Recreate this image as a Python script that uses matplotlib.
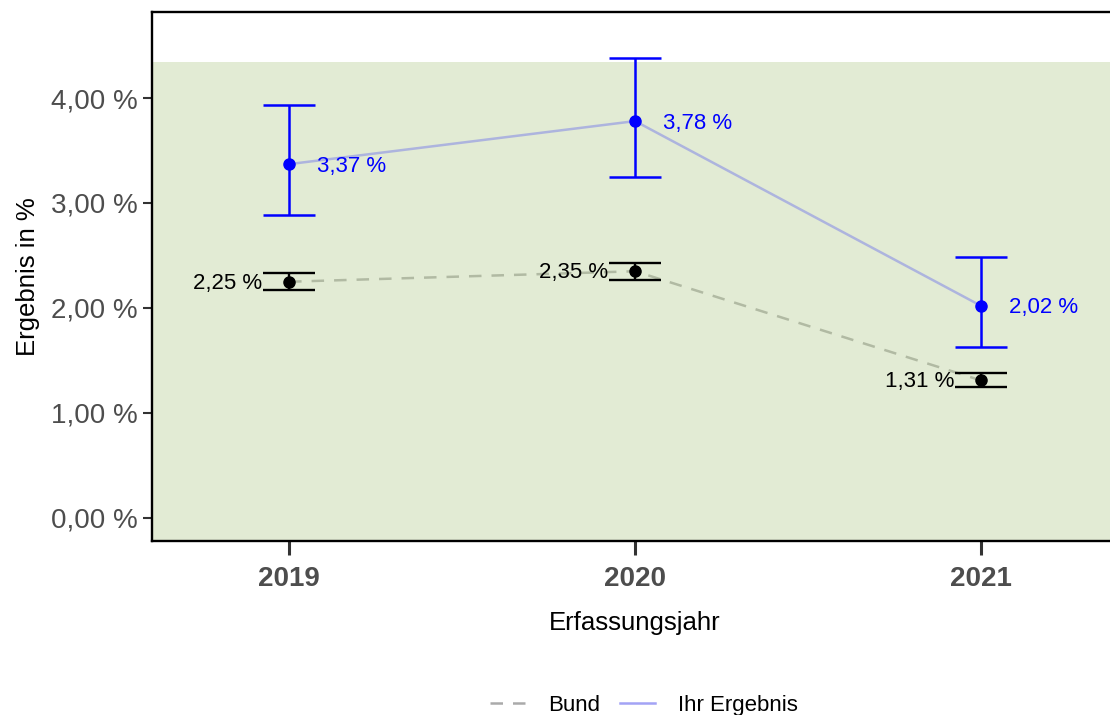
import matplotlib.pyplot as plt
from matplotlib.lines import Line2D
from matplotlib.ticker import FuncFormatter

plt.rcParams['font.family'] = ['Liberation Sans', 'DejaVu Sans']

# Daten
jahre = [2019, 2020, 2021]
ihr_wert = [3.37, 3.78, 2.02]
ihr_unten = [2.89, 3.25, 1.63]
ihr_oben = [3.93, 4.38, 2.49]
bund_wert = [2.25, 2.35, 1.31]
bund_unten = [2.17, 2.27, 1.25]
bund_oben = [2.33, 2.43, 1.38]
bereich_oben = 4.34  # obere Grenze des gruenen Bereichs


def fmt(v):
    return f"{v:.2f}".replace('.', ',') + " %"


fig = plt.figure(figsize=(11.1, 7.15), dpi=100)
ax = fig.add_axes([0.137, 0.2434, 0.87, 0.7398])

ax.axhspan(-1, bereich_oben, color='#E2EBD4', lw=0, zorder=0)

# Linien
ax.plot(jahre, bund_wert, color='#B1BAA3', lw=1.8, dashes=(5, 4), zorder=2)
ax.plot(jahre, ihr_wert, color='#ADB4DE', lw=1.8, zorder=2)

# Fehlerbalken Bund
ax.errorbar(jahre, bund_wert,
            yerr=[[w - u for w, u in zip(bund_wert, bund_unten)],
                  [o - w for w, o in zip(bund_wert, bund_oben)]],
            fmt='o', color='black', ms=8, elinewidth=1.7, capsize=18.7,
            capthick=1.7, zorder=3)
# Fehlerbalken Ihr Ergebnis
ax.errorbar(jahre, ihr_wert,
            yerr=[[w - u for w, u in zip(ihr_wert, ihr_unten)],
                  [o - w for w, o in zip(ihr_wert, ihr_oben)]],
            fmt='o', color='#0000FF', ms=8, elinewidth=1.8, capsize=18.7,
            capthick=1.8, zorder=4)

for x, v in zip(jahre, ihr_wert):
    ax.annotate(fmt(v), (x, v), xytext=(20, -1.5), textcoords='offset points',
                ha='left', va='center', color='#0000FF', fontsize=16, zorder=5)
for x, v in zip(jahre, bund_wert):
    ax.annotate(fmt(v), (x, v), xytext=(-19.5, -1), textcoords='offset points',
                ha='right', va='center', color='black', fontsize=16, zorder=5)

ax.set_xlim(2018.604, 2021.395)
ax.set_ylim(-0.219, 4.819)
ax.set_xticks(jahre)
ax.set_xticklabels([str(j) for j in jahre], fontweight='bold')
ax.set_yticks([0, 1, 2, 3, 4])
ax.yaxis.set_major_formatter(FuncFormatter(lambda v, p: fmt(v)))

ax.tick_params(axis='y', length=6.5, width=1.5, color='#333333',
               labelcolor='#4D4D4D', labelsize=20, pad=4)
ax.tick_params(axis='x', length=10, width=2.2, color='#333333',
               labelcolor='#4D4D4D', labelsize=20, pad=8)

for s in ['left', 'top', 'bottom']:
    ax.spines[s].set_linewidth(1.7)
    ax.spines[s].set_color('black')
ax.spines['right'].set_visible(False)

ax.set_xlabel('Erfassungsjahr', fontsize=18.5, labelpad=14)
ax.set_ylabel('Ergebnis in %', fontsize=18.5, labelpad=8)

handles = [Line2D([], [], color='#AAAAAA', lw=1.8, dashes=(5, 4)),
           Line2D([], [], color='#A3A3F5', lw=1.8)]
fig.legend(handles, ['Bund', 'Ihr Ergebnis'], loc='center',
           bbox_to_anchor=(0.58, 0.013), ncol=2, frameon=False, fontsize=16,
           handlelength=1.6, handletextpad=1.0, columnspacing=0.9)

fig.savefig('out.png', dpi=100)
